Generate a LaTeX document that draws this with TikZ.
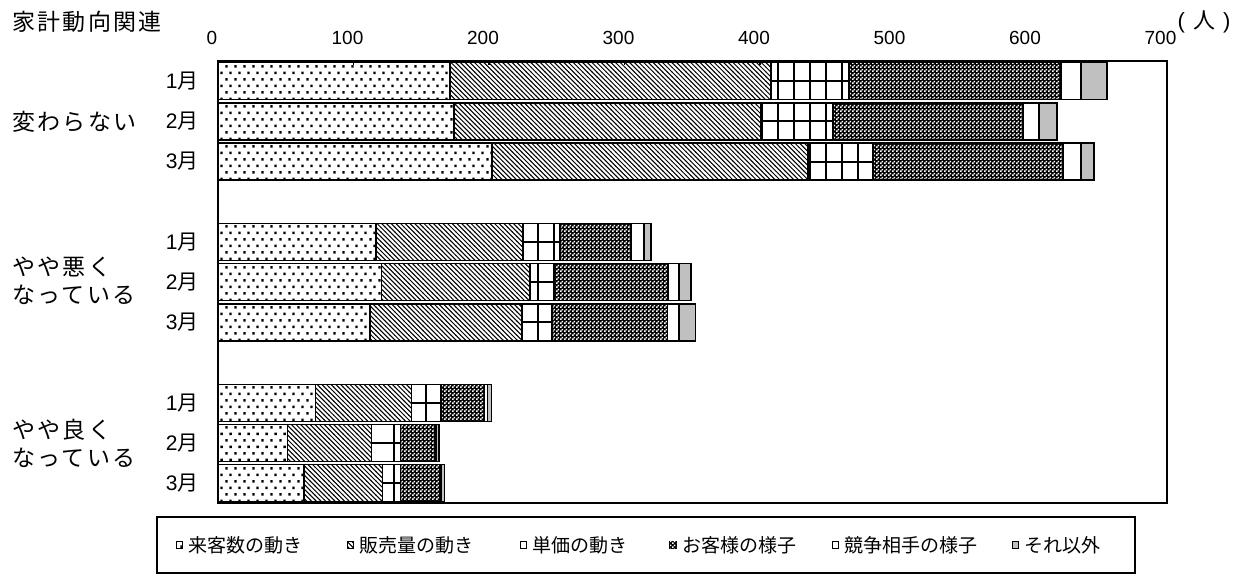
\documentclass[tikz,border=0pt]{standalone}
\usepackage{fontspec}
\setmainfont{Liberation Sans}
\newfontfamily\jp{Noto Sans CJK JP}
\newfontfamily\jpls[LetterSpace=10]{Noto Sans CJK JP}
\usetikzlibrary{patterns}
\definecolor{othergray}{HTML}{C0C0C0}

\pgfdeclarepatternformonly{sparsedots}{\pgfqpoint{0pt}{0pt}}{\pgfqpoint{4.5pt}{6.7pt}}{\pgfqpoint{4.5pt}{6.7pt}}{%
 \pgfpathrectangle{\pgfqpoint{0.2pt}{0.2pt}}{\pgfqpoint{1.25pt}{1.25pt}}%
 \pgfpathrectangle{\pgfqpoint{2.45pt}{3.55pt}}{\pgfqpoint{1.25pt}{1.25pt}}%
 \pgfusepath{fill}}
\pgfdeclarepatternformonly{densehatch}{\pgfqpoint{-0.5pt}{-0.5pt}}{\pgfqpoint{2.85pt}{2.85pt}}{\pgfqpoint{2.35pt}{2.35pt}}{%
 \pgfsetlinewidth{0.5pt}\pgfpathmoveto{\pgfqpoint{-0.1pt}{2.45pt}}\pgfpathlineto{\pgfqpoint{2.45pt}{-0.1pt}}\pgfusepath{stroke}}
\pgfdeclarepatternformonly{whitechecks}{\pgfqpoint{0pt}{0pt}}{\pgfqpoint{2pt}{2pt}}{\pgfqpoint{2pt}{2pt}}{%
 \pgfpathrectangle{\pgfqpoint{0.05pt}{0.05pt}}{\pgfqpoint{0.9pt}{0.9pt}}%
 \pgfpathrectangle{\pgfqpoint{1.05pt}{1.05pt}}{\pgfqpoint{0.9pt}{0.9pt}}%
 \pgfusepath{fill}}

\tikzset{
 seg/.style={draw=black, line width=0.7pt},
 segdots/.style={seg, pattern=sparsedots},
 seghatch/.style={seg, pattern=densehatch},
 checkfill/.style={pattern=whitechecks, pattern color=white},
 segwhite/.style={seg, fill=white},
 seggray/.style={seg, fill=othergray},
 gridline/.style={line width=1pt},
 frame/.style={line width=0.75pt},
 axislbl/.style={font=\fontsize{9.5}{11}\selectfont, inner sep=0pt},
 monthlbl/.style={font=\fontsize{10.5}{12}\selectfont, inner sep=0pt, anchor=east},
 grouplbl/.style={font=\fontsize{11.5}{14}\selectfont\jpls, inner sep=0pt, anchor=west, align=left},
 legtxt/.style={font=\fontsize{9.5}{11}\selectfont\jp, inner sep=0pt},
 legmark/.style={draw=black, line width=0.5pt, minimum size=3.1pt, inner sep=0pt, anchor=east}
}

% #1 slot, #2..#7 segment ends (x0 = 218)
\newcommand\drawbar[7]{%
 \pgfmathsetmacro\bT{62.6+40.2*#1}%
 \pgfmathsetmacro\bB{\bT+37}%
 \pgfmathsetmacro\bM{\bT+18.5}%
 \path[fill=white] (218,\bT) rectangle (#7,\bB);
 \draw[segdots] (218,\bT) rectangle (#2,\bB);
 \draw[seghatch] (#2,\bT) rectangle (#3,\bB);
 \begin{scope}
  \clip (#3,\bT) rectangle (#4,\bB);
  \foreach \g in {394,410,...,890} \draw[gridline] (\g,\bT) -- (\g,\bB);
  \draw[gridline] (#3,\bM) -- (#4,\bM);
 \end{scope}
 \draw[seg] (#3,\bT) rectangle (#4,\bB);
 \fill[black] (#4,\bT) rectangle (#5,\bB);
 \fill[checkfill] (#4,\bT) rectangle (#5,\bB);
 \draw[seg] (#4,\bT) rectangle (#5,\bB);
 \draw[segwhite] (#5,\bT) rectangle (#6,\bB);
 \draw[seggray] (#6,\bT) rectangle (#7,\bB);
}

\begin{document}
\begin{tikzpicture}[x=0.5pt,y=-0.5pt]
\fill[white] (0,0) rectangle (1251,575);
\useasboundingbox (0,0) rectangle (1251,575);

% bars
\drawbar{0}{450}{771}{849}{1061}{1081}{1107}
\drawbar{1}{454}{761}{833}{1023}{1039}{1057}
\drawbar{2}{492}{808}{873}{1063}{1081}{1094}
\drawbar{4}{376}{523}{560}{631}{644}{651}
\drawbar{5}{381.5}{530}{554}{668}{679}{691}
\drawbar{6}{370}{521.5}{552}{667.6}{679}{695.6}
\drawbar{8}{315.7}{411.7}{441}{484.3}{487.3}{491.7}
\drawbar{9}{287.7}{371.7}{400.7}{435}{436.7}{439}
\drawbar{10}{304}{382.3}{400.7}{439.3}{441}{444.3}

% plot frame and ticks
\draw[frame] (218,61) rectangle (1167,503.2);
\foreach \i in {1,...,6} \draw[frame] (218+135.5*\i,61) -- (218+135.5*\i,64.5);

% axis labels
\foreach \v [count=\i from 0] in {0,100,200,300,400,500,600,700}
  \node[axislbl] (ax\i) at (212+135.5*\i,38) {\v};
\node[font=\fontsize{11}{13}\selectfont, inner sep=0pt] (unit) at (1204,22) {(\hspace{4pt}{\jp 人}\hspace{4pt})};

% title
\node[grouplbl] (title) at (12,22) {家計動向関連};

% month labels
\foreach \s/\m [count=\i] in {0/1,1/2,2/3,4/1,5/2,6/3,8/1,9/2,10/3}
  \node[monthlbl] (mon\i) at (199,81.1+40.2*\s) {\m{\jp 月}};

% group labels
\node[grouplbl] (g1) at (12,121.3) {変わらない};
\node[grouplbl] (g2) at (12,281) {やや悪く\\なっている};
\node[grouplbl] (g3) at (12,443) {やや良く\\なっている};

% legend
\draw[frame] (157,517) rectangle (1135,573);
\node[legtxt] (lt1) at (245.5,545) {来客数の動き};
\node[legmark, pattern=sparsedots] (lm1) at ([xshift=-2.5pt]lt1.west) {};
\node[legtxt] (lt2) at (416.5,545) {販売量の動き};
\node[legmark, pattern=densehatch] (lm2) at ([xshift=-2.5pt]lt2.west) {};
\node[legtxt] (lt3) at (580,545) {単価の動き};
\node[legmark, fill=white] (lm3) at ([xshift=-2.5pt]lt3.west) {};
\node[legtxt] (lt4) at (739,545) {お客様の様子};
\node[legmark, fill=black, postaction={checkfill}] (lm4) at ([xshift=-2.5pt]lt4.west) {};
\node[legtxt] (lt5) at (911,545) {競争相手の様子};
\node[legmark, fill=white] (lm5) at ([xshift=-2.5pt]lt5.west) {};
\node[legtxt] (lt6) at (1062.5,545) {それ以外};
\node[legmark, fill=othergray] (lm6) at ([xshift=-2.5pt]lt6.west) {};
\end{tikzpicture}
\end{document}
